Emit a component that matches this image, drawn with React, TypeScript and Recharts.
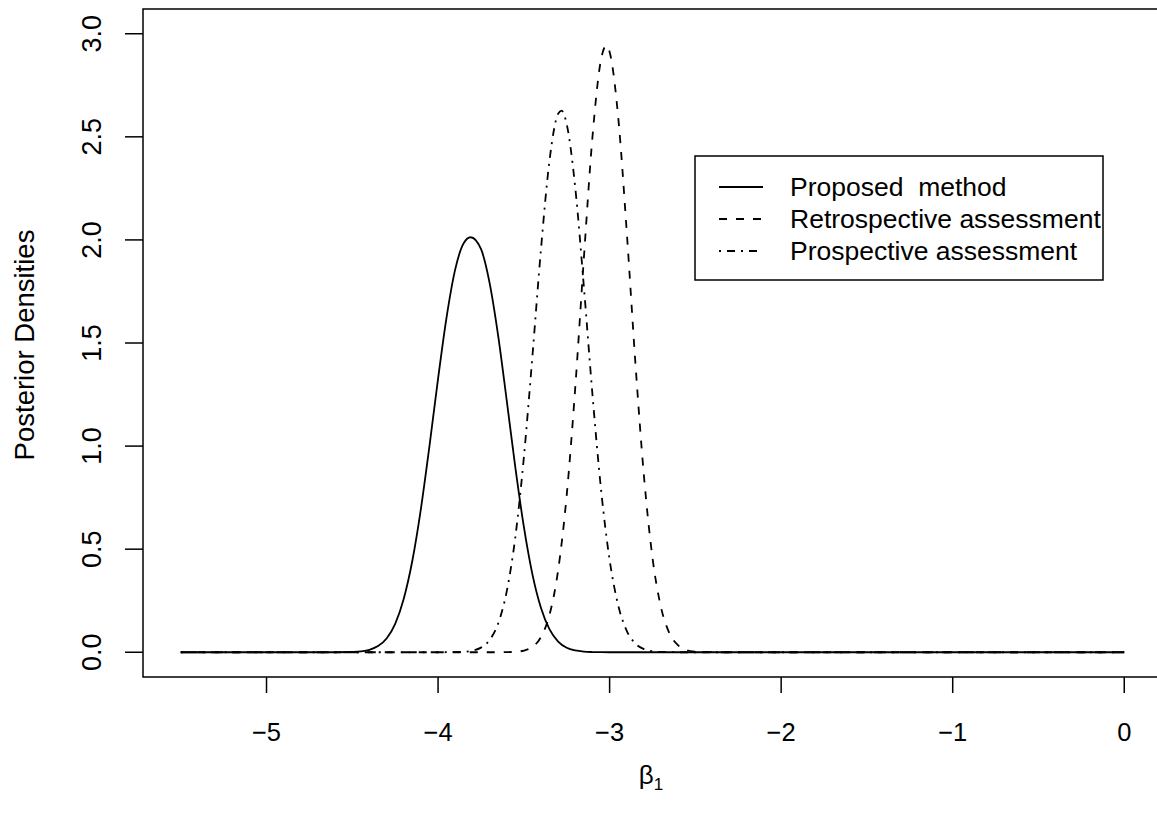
import React from 'react';
import { LineChart, Line, XAxis, YAxis, ReferenceArea } from 'recharts';

// Posterior densities of beta_1
const proposedX = [-5.5, -4.65, -4.6, -4.55, -4.5, -4.45, -4.4, -4.35, -4.3, -4.25, -4.2, -4.15, -4.1, -4.05, -4.0, -3.95, -3.9, -3.85, -3.81, -3.75, -3.7, -3.65, -3.6, -3.55, -3.5, -3.45, -3.4, -3.35, -3.3, -3.25, -3.2, -3.15, -3.1, -3.05, -3.0, -2.9, 0];
const proposedY = [0, 0, 0.0001, 0.0004, 0.0014, 0.0043, 0.012, 0.03, 0.067, 0.138, 0.26, 0.444, 0.696, 1.001, 1.327, 1.627, 1.857, 1.985, 2.013, 1.956, 1.793, 1.537, 1.223, 0.899, 0.609, 0.378, 0.215, 0.111, 0.052, 0.022, 0.0087, 0.003, 0.001, 0.0003, 0.0001, 0, 0];

const retroX = [-5.5, -3.7, -3.65, -3.6, -3.55, -3.5, -3.45, -3.4, -3.35, -3.3, -3.25, -3.2, -3.15, -3.1, -3.05, -3.02, -3.0, -2.95, -2.9, -2.85, -2.8, -2.75, -2.7, -2.65, -2.6, -2.55, -2.5, -2.45, -2.4, -2.35, 0];
const retroY = [0, 0, 0.0001, 0.0006, 0.0023, 0.0082, 0.026, 0.074, 0.183, 0.398, 0.763, 1.287, 1.912, 2.499, 2.875, 2.942, 2.912, 2.596, 2.038, 1.407, 0.856, 0.458, 0.216, 0.09, 0.033, 0.0105, 0.003, 0.0007, 0.0002, 0, 0];

const prospX = [-5.5, -4.0, -3.95, -3.9, -3.85, -3.8, -3.75, -3.7, -3.65, -3.6, -3.55, -3.5, -3.45, -3.4, -3.35, -3.3, -3.28, -3.25, -3.2, -3.15, -3.1, -3.05, -3.0, -2.95, -2.9, -2.85, -2.8, -2.75, -2.7, -2.65, -2.6, -2.55, 0];
const prospY = [0, 0, 0.0002, 0.0006, 0.0023, 0.0077, 0.0225, 0.059, 0.139, 0.294, 0.556, 0.944, 1.436, 1.956, 2.388, 2.612, 2.627, 2.561, 2.251, 1.772, 1.25, 0.79, 0.448, 0.228, 0.104, 0.042, 0.0155, 0.0051, 0.0015, 0.0004, 0.0001, 0, 0];

const xTicks = [-5, -4, -3, -2, -1, 0];
const yTicks = [0, 0.5, 1, 1.5, 2, 2.5, 3];
const xDomain = [-5.72, 0.22];
const yDomain = [-0.12, 3.12];

const seriesNames = ['Proposed  method', 'Retrospective assessment', 'Prospective assessment'];
const DASHED = '8 9';
const DOTDASH = '2 6 8 6';
const FONT = '"Liberation Sans", Arial, Helvetica, sans-serif';

const toRows = (xs: number[], ys: number[]) => xs.map((x, i) => ({ x, y: ys[i] }));

const XTick = ({ x, payload }: any) => (
  <text x={x} y={741} textAnchor="middle" fontSize={25.5} fontFamily={FONT} fill="#000">
    {payload.value < 0 ? `\u2212${Math.abs(payload.value)}` : payload.value}
  </text>
);

const YTick = ({ y, payload }: any) => (
  <text
    x={101}
    y={y}
    transform={`rotate(-90 101 ${y})`}
    textAnchor="middle"
    fontSize={27}
    fontFamily={FONT}
    fill="#000"
  >
    {Number(payload.value).toFixed(1)}
  </text>
);

export default function App() {
  const legendStyles = [undefined, DASHED, DOTDASH];
  return (
    <div style={{ position: 'absolute', left: 0, top: 0, width: 1157, height: 818, overflow: 'hidden', background: '#fff' }}>
      <LineChart width={1180} height={818} margin={{ top: 9, right: 18, left: 0, bottom: 0 }}>
        <XAxis
          dataKey="x"
          type="number"
          domain={xDomain}
          ticks={xTicks}
          allowDataOverflow
          height={141}
          axisLine={false}
          tickSize={16}
          tickLine={{ stroke: '#000', strokeWidth: 1.5 }}
          tick={<XTick />}
        />
        <YAxis
          type="number"
          domain={yDomain}
          ticks={yTicks}
          allowDataOverflow
          width={143}
          axisLine={false}
          tickSize={18}
          tickLine={{ stroke: '#000', strokeWidth: 1.5 }}
          tick={<YTick />}
        />
        <ReferenceArea
          x1={xDomain[0]}
          x2={xDomain[1]}
          y1={yDomain[0]}
          y2={yDomain[1]}
          fill="none"
          stroke="#000"
          strokeWidth={1.5}
          ifOverflow="visible"
        />
        <Line data={toRows(proposedX, proposedY)} dataKey="y" type="monotone" dot={false} stroke="#000" strokeWidth={1.8} isAnimationActive={false} />
        <Line data={toRows(retroX, retroY)} dataKey="y" type="monotone" dot={false} stroke="#000" strokeWidth={1.8} strokeDasharray={DASHED} isAnimationActive={false} />
        <Line data={toRows(prospX, prospY)} dataKey="y" type="monotone" dot={false} stroke="#000" strokeWidth={1.8} strokeDasharray={DOTDASH} isAnimationActive={false} />
      </LineChart>
      <svg width={1157} height={818} style={{ position: 'absolute', left: 0, top: 0, pointerEvents: 'none' }}>
        <text x={34} y={345} transform="rotate(-90 34 345)" textAnchor="middle" fontSize={27.5} fontFamily={FONT}>
          Posterior Densities
        </text>
        <text x={651} y={784} textAnchor="middle" fontSize={26} fontFamily={FONT}>
          β<tspan fontSize={17} dy={6}>1</tspan>
        </text>
        <rect x={695} y={156} width={408} height={124} fill="#fff" stroke="#000" strokeWidth={1.5} />
        {seriesNames.map((name, i) => (
          <g key={name}>
            <line x1={719} x2={763} y1={187 + i * 32} y2={187 + i * 32} stroke="#000" strokeWidth={1.8} strokeDasharray={legendStyles[i]} />
            <text x={790} y={187 + i * 32 + 9} fontSize={26.5} fontFamily={FONT} style={{ whiteSpace: 'pre' }}>
              {name}
            </text>
          </g>
        ))}
      </svg>
    </div>
  );
}
